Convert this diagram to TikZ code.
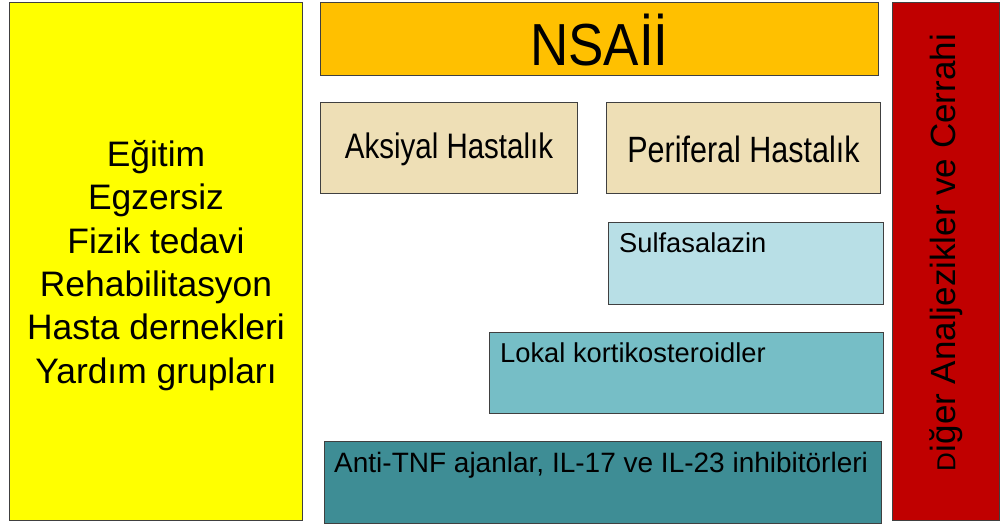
\documentclass[tikz,border=0pt]{standalone}
\usepackage{fontspec}
\setmainfont{Liberation Sans}
\usetikzlibrary{calc}
\definecolor{cyellow}{HTML}{FFFF00}
\definecolor{corange}{HTML}{FFC000}
\definecolor{ctan}{HTML}{EEDFB6}
\definecolor{clight}{HTML}{B8DFE6}
\definecolor{cmid}{HTML}{76BEC6}
\definecolor{cdark}{HTML}{3E8D95}
\definecolor{cred}{HTML}{C00000}
\definecolor{cborder}{HTML}{404040}
\begin{document}
\begin{tikzpicture}[x=1pt,y=-1pt,
  box/.style={draw=cborder, line width=1pt, anchor=north west, inner sep=0pt},
  txt/.style={inner sep=0pt, text=black}]
\useasboundingbox (0,0) rectangle (1003,529);
\fill[white] (0,0) rectangle (1003,529);
% left yellow
\node[box, fill=cyellow, minimum width=293pt, minimum height=518pt] (yel) at (9,2) {};
\node[txt, align=center, font=\fontsize{35.4}{43.4}\selectfont] (yeltxt) at ($(yel.center)+(0,4)$)
  {Eğitim\\Egzersiz\\Fizik tedavi\\Rehabilitasyon\\Hasta dernekleri\\Yardım grupları};
% NSAII
\node[box, fill=corange, minimum width=558pt, minimum height=73pt] (nsa) at (320,2) {};
\node[txt, font=\fontsize{53}{60}\selectfont] (nsatxt) at ($(nsa.center)+(0,1)$) {\scalebox{1}[1.12]{NSAİİ}};
% Aksiyal / Periferal
\node[box, fill=ctan, minimum width=257pt, minimum height=91pt] (aks) at (320,102) {};
\node[txt, font=\fontsize{29.5}{34}\selectfont] (akstxt) at ($(aks.center)+(0,1)$) {\scalebox{1}[1.2]{Aksiyal Hastalık}};
\node[box, fill=ctan, minimum width=274pt, minimum height=91pt] (per) at (606,102) {};
\node[txt, font=\fontsize{30.5}{34}\selectfont] (pertxt) at ($(per.center)+(0,1)$) {\scalebox{1}[1.2]{Periferal Hastalık}};
% stacked therapy boxes
\node[box, fill=clight, minimum width=275pt, minimum height=82pt] (sul) at (608,222) {};
\node[txt, anchor=base west, font=\fontsize{27.3}{32}\selectfont] (sultxt) at ($(sul.north west)+(11,31)$) {Sulfasalazin};
\node[box, fill=cmid, minimum width=394pt, minimum height=81pt] (lok) at (489,332) {};
\node[txt, anchor=base west, font=\fontsize{27.3}{32}\selectfont] (loktxt) at ($(lok.north west)+(11,30)$) {Lokal kortikosteroidler};
\node[box, fill=cdark, minimum width=557pt, minimum height=82pt] (anti) at (324,441) {};
\node[txt, anchor=base west, font=\fontsize{28}{32}\selectfont] (antitxt) at ($(anti.north west)+(10,31)$) {Anti-TNF ajanlar, IL-17 ve IL-23 inhibitörleri};
% right red
\node[box, fill=cred, minimum width=107pt, minimum height=518pt] (red) at (892,2) {};
\node[txt, rotate=90, font=\fontsize{35}{40}\selectfont] (redtxt) at ($(red.center)+(0,-9)$)
  {{\fontsize{26}{30}\selectfont D}iğer Analjezikler ve Cerrahi};
\end{tikzpicture}
\end{document}
